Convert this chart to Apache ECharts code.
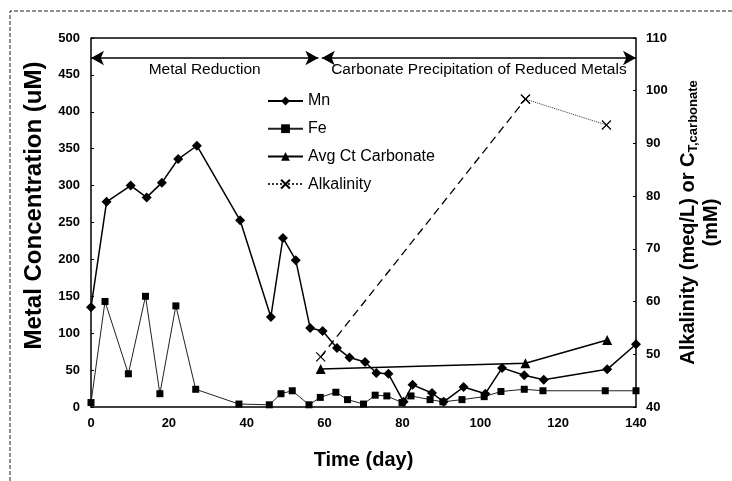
<!DOCTYPE html>
<html>
<head>
<meta charset="utf-8">
<script src="https://cdn.jsdelivr.net/npm/echarts@6/dist/echarts.min.js"></script>
<style>
  html, body { margin: 0; padding: 0; background: #fff; }
  #main { width: 732px; height: 481px; }
</style>
</head>
<body>
<div id="main"></div>
<script type="text/javascript">
    // Mn (uM) vs time (day)
    var mnDays = [0, 4, 10.2, 14.3, 18.2, 22.4, 27.2, 38.3, 46.2, 49.3, 52.6, 56.3, 59.5, 63.2, 66.4, 70.4, 73.3, 76.4, 80.3, 82.6, 87.6, 90.6, 95.7, 101.3, 105.6, 111.3, 116.3, 132.6, 140];
    var mnVals = [135, 278, 300, 284, 304, 336, 354, 253, 122, 229, 199, 107, 103, 80, 67, 61, 46, 45, 7, 30, 19, 7, 27, 18, 53, 43, 37, 51, 85];

    // Fe (uM) vs time (day)
    var feDays = [0, 3.6, 9.6, 14, 17.7, 21.8, 26.9, 38, 45.8, 48.8, 51.7, 56, 58.9, 62.9, 65.9, 70, 73, 76, 79.9, 82.2, 87.1, 90.4, 95.3, 101, 105.3, 111.3, 116.1, 132.1, 140];
    var feVals = [6, 143, 45, 150, 18, 137, 24, 4, 3, 18, 22, 3, 13, 20, 10, 4, 16, 15, 6, 15, 10, 7, 10, 14, 21, 24, 22, 22, 22];

    // Avg Ct carbonate (mM), right axis
    var ctDays = [59, 111.6, 132.6];
    var ctVals = [47.2, 48.3, 52.7];

    // Alkalinity (meq/L), right axis
    var alkDays = [59, 111.6, 132.4];
    var alkVals = [49.5, 98.4, 93.5];

    // phase arrows (day ranges) drawn at the top of the plot
    var phases = [
        { name: 'Metal Reduction', from: 0, to: 58.4 },
        { name: 'Carbonate Precipitation of Reduced Metals', from: 59.3, to: 140 }
    ];
    var phaseLevel = 106.2;

    function pairs(xs, ys) {
        return xs.map(function (x, i) { return [x, ys[i]]; });
    }

    var xSym = 'path://M0,0L10,10M10,0L0,10';

    var chart = echarts.init(document.getElementById('main'));
    var option = {
        animation: false,
        backgroundColor: '#fff',
        textStyle: { fontFamily: 'Liberation Sans, Arial, sans-serif', color: '#000' },
        grid: { left: 91, right: 96, top: 38, bottom: 74 },
        graphic: [
            { type: 'polyline', shape: { points: [[10, 481], [10, 11], [732, 11]] },
              style: { stroke: '#222', lineWidth: 1, lineDash: [4, 2], fill: null } },
            { type: 'line', shape: { x1: 91, y1: 38, x2: 636, y2: 38 },
              style: { stroke: '#000', lineWidth: 1.5 } }
        ],
        legend: {
            data: ['Mn', 'Fe', 'Avg Ct Carbonate', 'Alkalinity'],
            orient: 'vertical',
            left: 262,
            top: 88,
            itemWidth: 35,
            itemHeight: 11,
            itemGap: 11.7,
            textStyle: { fontSize: 16, color: '#000', fontFamily: 'Liberation Sans, Arial, sans-serif' }
        },
        xAxis: {
            type: 'value',
            min: 0, max: 140, interval: 20,
            name: 'Time (day)',
            nameLocation: 'middle',
            nameGap: 43,
            nameTextStyle: { fontSize: 20, fontWeight: 'bold', color: '#000' },
            axisLine: { lineStyle: { color: '#000', width: 1.5 } },
            axisTick: { show: false },
            axisLabel: { fontSize: 13, fontWeight: 'bold', color: '#000', margin: 10 },
            splitLine: { show: false }
        },
        yAxis: [
            {
                type: 'value',
                min: 0, max: 500, interval: 50,
                name: 'Metal Concentration (uM)',
                nameLocation: 'middle',
                nameGap: 45,
                nameTextStyle: { fontSize: 24, fontWeight: 'bold', color: '#000', padding: [0, 0, 0, 34] },
                axisLine: { show: true, lineStyle: { color: '#000', width: 1.5 } },
                axisTick: { show: true, inside: true, length: 3, lineStyle: { color: '#000' } },
                axisLabel: { fontSize: 13, fontWeight: 'bold', color: '#000', margin: 11 },
                splitLine: { show: false }
            },
            {
                type: 'value',
                min: 40, max: 110, interval: 10,
                position: 'right',
                name: '{a|Alkalinity (meq/L) or C}{s|T,carbonate}\n{a|(mM)}',
                nameLocation: 'middle',
                nameRotate: 90,
                nameGap: 34,
                nameTextStyle: {
                    color: '#000',
                    rich: {
                        a: { fontSize: 20, fontWeight: 'bold', lineHeight: 23, color: '#000' },
                        s: { fontSize: 13, fontWeight: 'bold', lineHeight: 23, verticalAlign: 'bottom', color: '#000' }
                    }
                },
                axisLine: { show: true, lineStyle: { color: '#000', width: 1.5 } },
                axisTick: { show: true, inside: true, length: 3, lineStyle: { color: '#000' } },
                axisLabel: { fontSize: 13, fontWeight: 'bold', color: '#000', margin: 10 },
                splitLine: { show: false }
            }
        ],
        series: [
            {
                name: 'Mn', type: 'line', data: pairs(mnDays, mnVals),
                symbol: 'diamond', symbolSize: 10,
                lineStyle: { color: '#000', width: 1.5 },
                itemStyle: { color: '#000' }
            },
            {
                name: 'Fe', type: 'line', data: pairs(feDays, feVals),
                symbol: 'rect', symbolSize: 7,
                lineStyle: { color: '#222', width: 1 },
                itemStyle: { color: '#000' }
            },
            {
                name: 'Avg Ct Carbonate', type: 'line', yAxisIndex: 1, data: pairs(ctDays, ctVals),
                symbol: 'triangle', symbolSize: 10,
                lineStyle: { color: '#000', width: 1.5 },
                itemStyle: { color: '#000' },
                markLine: {
                    silent: true,
                    symbol: ['arrow', 'arrow'],
                    symbolSize: [11, 13],
                    lineStyle: { color: '#000', width: 1.5, type: 'solid' },
                    label: {
                        show: true,
                        position: 'insideMiddleBottom',
                        distance: 4,
                        fontSize: 15.5,
                        color: '#000',
                        formatter: function (p) { return p.name; }
                    },
                    data: phases.map(function (p) {
                        return [
                            { name: p.name, coord: [p.from, phaseLevel] },
                            { coord: [p.to, phaseLevel] }
                        ];
                    })
                }
            },
            {
                name: 'Alkalinity', type: 'line', yAxisIndex: 1, data: pairs(alkDays.slice(1), alkVals.slice(1)),
                symbol: xSym, symbolSize: 9,
                lineStyle: { color: '#333', width: 1, type: 'dotted' },
                itemStyle: { color: 'none', borderColor: '#000', borderWidth: 1.2 }
            },
            {
                name: 'Alkalinity-rise', type: 'line', yAxisIndex: 1, data: pairs(alkDays.slice(0, 2), alkVals.slice(0, 2)),
                symbol: xSym, symbolSize: 9,
                lineStyle: { color: '#000', width: 1.3, type: [8, 5] },
                itemStyle: { color: 'none', borderColor: '#000', borderWidth: 1.2 }
            }
        ]
    };
    chart.setOption(option);
</script>
</body>
</html>
